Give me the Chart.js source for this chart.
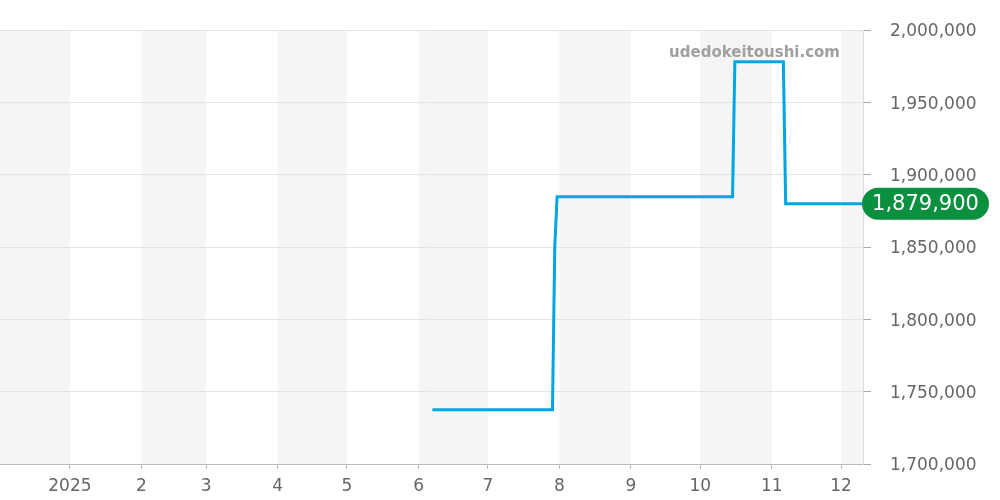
<!DOCTYPE html>
<html>
<head>
<meta charset="utf-8">
<script src="https://cdn.jsdelivr.net/npm/chart.js@4.4.1/dist/chart.umd.min.js"></script>
<style>
  html, body { margin: 0; padding: 0; background: #fff; }
  #wrap { width: 1000px; height: 500px; }
</style>
</head>
<body>
<div id="wrap"><canvas id="priceChart"></canvas></div>
<script>
// price history (date -> yen)
const priceDates = ['2025-06-07', '2025-07-29', '2025-07-30', '2025-07-31', '2025-10-15',
                    '2025-10-16', '2025-11-06', '2025-11-07', '2025-12-10T12:00:00Z'];
const priceValues = [1737500, 1737500, 1850000, 1884800, 1884800,
                     1978000, 1978000, 1879900, 1879900];

// month ticks on the x axis
const monthStarts = ['2024-12-01', '2025-01-01', '2025-02-01', '2025-03-01', '2025-04-01',
                     '2025-05-01', '2025-06-01', '2025-07-01', '2025-08-01', '2025-09-01',
                     '2025-10-01', '2025-11-01', '2025-12-01', '2026-01-01'];
const monthLabels = ['12', '2025', '2', '3', '4', '5', '6', '7', '8', '9', '10', '11', '12', '2026'];

// y axis
const yMin = 1700000;
const yMax = 2000000;
const yStep = 50000;

const xStart = '2024-12-01T17:00:00Z';
const xEnd = '2025-12-10T12:00:00Z';

const latestLabel = '1,879,900';
const watermark = 'udedokeitoushi.com';

const DAY = 86400000;
const origin = Date.parse('2025-01-01T00:00:00Z');
const toDay = s => (Date.parse(s.length === 10 ? s + 'T00:00:00Z' : s) - origin) / DAY;

const monthDays = monthStarts.map(toDay);
const xMin = toDay(xStart);
const xMax = toDay(xEnd);
const points = priceDates.map((d, i) => ({ x: toDay(d), y: priceValues[i] }));

const FONT = "'DejaVu Sans', sans-serif";

// alternating month shading + white background
const bandsPlugin = {
    id: 'bands',
    beforeDraw(chart) {
        const { ctx, chartArea, scales } = chart;
        ctx.save();
        ctx.fillStyle = '#fff';
        ctx.fillRect(0, 0, chart.width, chart.height);
        ctx.beginPath();
        ctx.rect(chartArea.left, chartArea.top, chartArea.right - chartArea.left, chartArea.bottom - chartArea.top);
        ctx.clip();
        ctx.fillStyle = '#f5f5f5';
        for (let i = 0; i < monthDays.length - 1; i += 2) {
            const x0 = scales.x.getPixelForValue(monthDays[i]);
            const x1 = scales.x.getPixelForValue(monthDays[i + 1]);
            ctx.fillRect(x0, chartArea.top, x1 - x0, chartArea.bottom - chartArea.top);
        }
        ctx.restore();
    }
};

// latest price pill + site watermark
const labelPlugin = {
    id: 'latest',
    afterDraw(chart) {
        const { ctx, chartArea, scales } = chart;
        const last = points[points.length - 1];
        const y = scales.y.getPixelForValue(last.y);
        ctx.save();
        ctx.font = 'bold 15px ' + FONT;
        ctx.fillStyle = '#a0a0a0';
        ctx.textAlign = 'right';
        ctx.textBaseline = 'middle';
        ctx.fillText(watermark, chartArea.right - 23, chartArea.top + 23);

        const x0 = chartArea.right - 1, w = 127, h = 32;
        ctx.fillStyle = '#0b9040';
        ctx.beginPath();
        ctx.roundRect(x0, y - h / 2, w, h, h / 2);
        ctx.fill();
        ctx.fillStyle = '#fff';
        ctx.font = '21px ' + FONT;
        ctx.textAlign = 'center';
        ctx.fillText(latestLabel, x0 + w / 2, y + 1);
        ctx.restore();
    }
};

new Chart(document.getElementById('priceChart'), {
    type: 'line',
    data: {
        datasets: [{
            data: points,
            borderColor: '#00a5e6',
            borderWidth: 3,
            pointRadius: 0,
            tension: 0,
            fill: false
        }]
    },
    options: {
        responsive: true,
        maintainAspectRatio: false,
        animation: false,
        layout: { padding: { top: 30, left: 0, right: 0, bottom: 0 } },
        plugins: { legend: { display: false }, tooltip: { enabled: false } },
        scales: {
            x: {
                type: 'linear',
                min: xMin,
                max: xMax,
                afterBuildTicks: scale => {
                    scale.ticks = monthDays.filter(v => v >= xMin && v <= xMax).map(v => ({ value: v }));
                },
                afterFit: scale => { scale.height = 36; },
                grid: { drawOnChartArea: false, tickLength: 5, color: '#bbb' },
                border: { color: '#bbb' },
                ticks: {
                    autoSkip: false,
                    maxRotation: 0,
                    padding: 7,
                    color: '#666',
                    font: { family: FONT, size: 17 },
                    callback: value => monthLabels[monthDays.indexOf(value)]
                }
            },
            y: {
                position: 'right',
                min: yMin,
                max: yMax,
                afterFit: scale => { scale.width = 137; },
                grid: { color: '#e4e4e4', tickLength: 8, tickColor: '#aaa' },
                border: { color: '#ddd' },
                ticks: {
                    stepSize: yStep,
                    padding: 19,
                    labelOffset: 2,
                    color: '#666',
                    font: { family: FONT, size: 17 },
                    callback: v => v.toLocaleString('en-US')
                }
            }
        }
    },
    plugins: [bandsPlugin, labelPlugin]
});
</script>
</body>
</html>
